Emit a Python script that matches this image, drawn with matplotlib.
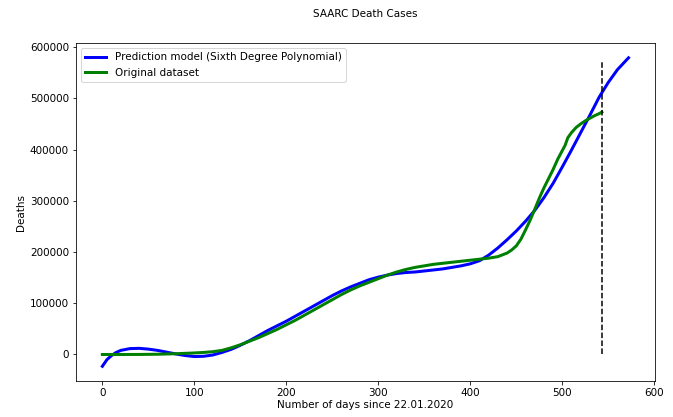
import matplotlib.pyplot as plt
import numpy as np

# Dias desde 22.01.2020 y muertes acumuladas (SAARC)
dias_orig = [0, 20, 40, 60, 80, 100, 110, 120, 130, 140, 150, 160, 170, 180, 190,
             200, 210, 220, 230, 240, 250, 260, 270, 280, 290, 300, 310, 320, 330,
             340, 350, 360, 370, 380, 390, 400, 410, 420, 430, 440, 445, 450, 455,
             460, 465, 470, 475, 480, 485, 490, 495, 500, 503, 506, 510, 515, 520,
             525, 530, 535, 540, 543]
muertes_orig = [0, 0, 100, 500, 1500, 3000, 4000, 5500, 8000, 13000, 19000, 26000,
                33000, 41000, 49000, 58000, 67000, 77000, 87000, 97000, 107000,
                117000, 126000, 134000, 141000, 148000, 155000, 161000, 166000,
                170000, 173000, 176000, 178000, 180000, 182000, 184000, 186000,
                188000, 191000, 198000, 204000, 212000, 225000, 243000, 262000,
                283000, 305000, 325000, 343000, 361000, 381000, 398000, 408000,
                423000, 433000, 443000, 450000, 456000, 461000, 466000, 470000, 473000]

# Prediccion del modelo polinomial de grado 6
dias_pred = [0, 5, 10, 15, 20, 30, 40, 50, 60, 70, 80, 90, 100, 110, 120, 130, 140,
             150, 160, 170, 180, 190, 200, 210, 220, 230, 240, 250, 260, 270, 280,
             290, 300, 310, 320, 330, 340, 350, 360, 370, 380, 390, 400, 410, 420,
             430, 440, 450, 460, 470, 480, 490, 500, 510, 520, 530, 540, 550, 560, 572]
muertes_pred = [-23000, -10000, -2000, 4000, 8000, 11500, 12000, 10500, 8000, 4500,
                1000, -2000, -4000, -3500, -1000, 4000, 10000, 18000, 27000, 37000,
                47000, 56000, 65000, 75000, 85000, 95000, 105000, 115000, 124000,
                132000, 139000, 146000, 151000, 155000, 158000, 160000, 161000,
                163000, 165000, 167000, 170000, 173000, 177000, 183000, 194000,
                208000, 224000, 241000, 260000, 281000, 306000, 334000, 366000,
                399000, 433000, 467000, 502000, 531000, 556000, 579000]

dia_corte = 543
tope_corte = 575000

plt.rcParams['font.size'] = 10.4

fig = plt.figure(figsize=(673 / 72, 417 / 72), dpi=72)
ax = fig.add_axes([0.113, 0.086, 0.86, 0.811])

ax.plot(dias_pred, muertes_pred, color='blue', linewidth=3,
        label='Prediction model (Sixth Degree Polynomial)')
ax.plot(dias_orig, muertes_orig, color='green', linewidth=3, label='Original dataset')
ax.vlines(dia_corte, 0, tope_corte, colors='black', linestyles='--', linewidth=1.5)

ax.set_xlim(-28.6, 600.6)
ax.set_ylim(-52000, 608000)
ax.set_xlabel('Number of days since 22.01.2020', labelpad=2)
ax.set_ylabel('Deaths')
ax.legend(loc='upper left')

fig.text(365 / 673, 1 - 14 / 417, 'SAARC Death Cases', ha='center', va='center')

fig.savefig('out.png', dpi=72)
